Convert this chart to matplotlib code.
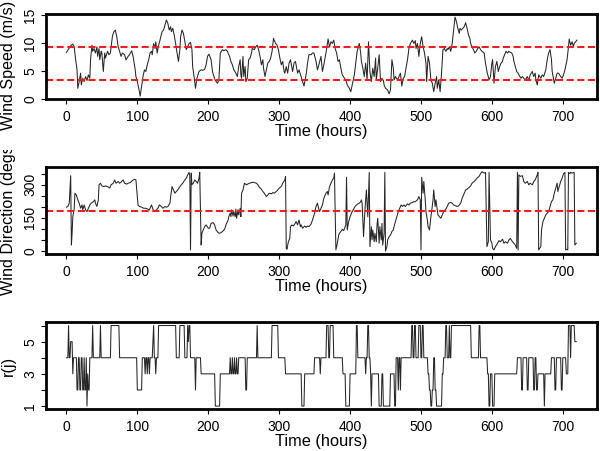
import numpy as np
import matplotlib
matplotlib.use("Agg")
import matplotlib.pyplot as plt
from matplotlib.transforms import Bbox, TransformedBbox

plt.rcParams['font.family'] = ['Liberation Sans', 'DejaVu Sans']

# ---------------- data ----------------
speed_hours = [0, 3, 6, 9, 11, 13, 15, 16, 18, 20, 21, 23, 25, 27, 29, 31, 33, 34, 36, 37, 39, 41, 43, 44, 46, 47, 49, 50,
               52, 54, 55, 58, 60, 62, 65, 67, 69, 71, 73, 75, 77, 79, 82, 84, 87, 89, 92, 94, 97, 98, 100, 102, 104, 106,
               108, 110, 112, 114, 116, 118, 120, 121, 123, 125, 126, 128, 130, 132, 133, 135, 137, 139, 141, 143, 145,
               147, 148, 150, 152, 154, 156, 158, 160, 161, 163, 165, 167, 169, 171, 173, 175, 177, 178, 180, 182, 184,
               187, 190, 192, 195, 197, 199, 201, 204, 206, 208, 210, 213, 215, 217, 220, 222,
               225, 227, 230, 232, 234, 236, 239, 241, 243, 245, 246, 247, 249, 250, 252, 253, 255, 257, 259, 261, 262,
               265, 267, 269, 271, 273, 275, 277, 278, 280, 282, 284, 286, 288, 290, 292, 293, 295, 297, 299, 301, 303,
               305, 307, 308, 310, 312, 314, 316, 319, 321, 323, 326, 328, 331, 333, 335, 338, 340, 342, 345, 347, 349,
               352, 354, 356, 359, 361, 363, 366, 368, 369, 371, 373, 375, 377, 379, 381, 383, 385, 387, 389, 392, 394,
               396, 399, 401, 403, 406, 408, 410, 413, 415, 416, 418, 420, 422, 424, 426, 428, 430, 432, 434, 436, 437,
               439, 441, 443, 445, 447, 448, 450, 453, 455, 457, 459, 461, 462, 464, 467, 469, 471, 473, 475, 477, 478,
               481, 483, 485, 488, 490,
               492, 493, 495, 497, 499, 501, 503, 505, 507, 508, 510, 512, 514, 516, 518, 520, 522, 523, 525, 527, 529,
               531, 533, 535, 537, 538, 540, 542, 544, 546, 548, 550, 552, 554, 555, 557, 559, 561, 563, 565, 567, 569,
               570, 572, 574, 576, 578, 580, 582, 584, 586, 589, 591, 593, 596, 598, 600, 601, 603, 605, 607, 609, 611,
               613, 615, 616, 618, 620, 622, 624, 626, 628, 630, 631, 633, 635, 637, 639, 641, 643, 645, 647, 650, 652,
               654, 657, 659, 661, 662, 664, 666, 669, 671, 673, 676, 678, 680, 682, 684, 685, 688, 690, 692, 694, 697,
               699, 701, 703, 706, 708, 709, 711, 713, 715, 716, 718, 720]
speed_values = [8.3, 8.9, 9.5, 9.8, 9.3, 7.0, 5.2, 1.9, 3.1, 4.6, 2.5, 3.7, 3.1, 4.0, 3.3, 4.3, 3.7, 7.0, 9.6, 8.5, 9.0, 8.2,
                9.3, 7.6, 9.0, 7.0, 8.5, 8.2, 4.9, 8.2, 7.3, 8.5, 7.9, 8.2, 11.3, 12.0, 12.3, 11.1, 9.3, 8.5, 7.6, 8.2,
                7.9, 7.0, 7.6, 7.9, 8.6, 7.6, 5.2, 4.0, 3.1, 1.9, 0.5, 2.2, 4.0, 5.2, 4.9, 6.1, 7.0, 8.2, 8.5, 7.9, 9.9,
                9.0, 10.2, 8.2, 9.6, 10.5, 11.1, 12.0, 12.3, 13.2, 14.1, 13.5, 12.3, 12.9, 12.0, 12.6, 11.4, 9.9, 8.2,
                6.7, 8.8, 11.1, 12.3, 11.7, 10.2, 8.8, 9.3, 9.9, 10.1, 8.8, 5.8, 4.0, 1.9, 3.7, 4.9, 5.2, 5.1, 5.3, 6.1,
                7.6, 8.0, 7.0, 4.9, 4.0, 3.3, 2.8, 3.4, 8.2, 8.8, 8.6,
                8.8, 8.5, 7.6, 6.7, 6.1, 5.2, 4.6, 4.0, 5.8, 7.0, 4.3, 3.7, 7.6, 4.0, 5.8, 3.1, 3.7, 7.0, 7.3, 8.2, 9.0,
                8.8, 9.3, 9.6, 8.8, 7.6, 6.1, 7.0, 5.5, 4.0, 5.2, 6.4, 6.7, 7.3, 8.5, 10.8, 10.5, 9.9, 9.6, 8.8, 7.3, 6.1,
                6.7, 4.9, 4.6, 5.8, 4.6, 6.4, 7.0, 4.9, 6.4, 6.7, 4.6, 5.2, 4.0, 3.1, 2.3, 4.3, 6.4, 7.9, 7.9, 8.2, 8.2,
                6.7, 5.2, 6.1, 7.6, 4.9, 6.1, 8.2, 9.9, 10.7, 9.3, 10.2, 9.9, 10.5, 9.0, 8.2, 6.7, 7.0, 5.5, 4.3, 3.7, 3.4,
                2.5, 1.9, 1.3, 2.5, 4.3, 6.4, 8.5, 9.9, 8.2, 6.7, 5.5, 4.0, 6.4, 3.4, 10.2, 4.9, 3.1, 5.5, 4.0, 7.3, 3.4,
                5.5, 7.9, 3.1, 3.7, 3.3, 2.5, 1.9, 1.6, 0.9, 1.6, 7.0, 5.5, 3.4, 4.0, 3.4, 4.0, 4.6, 2.3, 3.7, 4.0, 4.9,
                7.0, 9.0, 9.9, 10.5, 9.9,
                10.4, 9.0, 9.9, 7.6, 9.9, 11.1, 9.3, 8.2, 6.4, 3.1, 7.6, 6.4, 3.4, 2.8, 1.3, 2.8, 4.0, 1.9, 3.4, 1.3, 4.6,
                8.8, 9.0, 8.5, 9.0, 8.8, 9.3, 8.5, 9.9, 12.3, 14.6, 13.8, 12.6, 11.7, 12.6, 12.3, 12.6, 12.9, 13.6, 12.6,
                11.4, 10.8, 9.9, 9.3, 8.8, 8.2, 8.5, 9.0, 9.3, 8.8, 8.5, 8.2, 6.4, 4.9, 3.4, 4.0, 6.4, 7.0, 2.8, 5.8, 6.7,
                4.9, 5.8, 6.4, 6.7, 7.3, 7.9, 8.5, 8.2, 8.5, 8.3, 8.2, 7.6, 6.7, 5.8, 4.9, 4.6, 4.1, 3.7, 4.0, 3.7, 3.4,
                4.0, 3.3, 4.3, 4.9, 4.0, 4.6, 3.4, 2.5, 4.3, 3.7, 4.3, 4.0, 5.2, 7.0, 8.2, 8.8, 7.0, 4.9, 2.8, 3.7, 4.6,
                4.6, 4.0, 3.7, 4.3, 5.2, 7.0, 9.3, 10.7, 9.6, 10.2, 9.3, 9.9, 10.2, 10.5]

dir_hours = [0, 2, 4, 6, 7, 8, 9, 11, 12, 14, 16, 18, 20, 22, 23, 25, 27, 29, 31, 33, 35, 38, 40, 41, 43, 45, 46, 48, 50,
             53, 55, 58, 61, 63, 66, 68, 70, 73, 75, 77, 80, 82, 85, 87, 90, 93, 96, 98, 100, 101, 103, 106, 109, 112,
             115, 117, 120, 122, 124, 127, 129, 131, 134, 136, 139, 141, 143, 146, 147, 149, 151, 153, 155, 157, 160,
             162, 164, 167, 169, 171, 173, 174, 175, 176, 177, 179, 181, 183, 185, 187, 188, 190, 191, 192, 195, 197,
             200, 202, 204, 207, 209, 211, 214, 216, 218, 221, 223, 225, 228, 229, 231, 232, 233, 235, 236, 238, 239,
             240, 242, 243, 245, 246, 247, 249, 251, 254, 256, 258, 261, 263, 265, 268, 270, 272, 275, 277, 279, 282,
             284, 286, 289, 291, 293, 296, 298, 300, 303, 305, 308, 309, 310, 311, 313, 315, 316, 318, 320, 322, 324,
             326, 328, 330, 331, 333, 336, 338, 340,
             342, 345, 347, 350, 352, 354, 355, 357, 359, 361, 363, 366, 368, 369, 371, 373, 375, 377, 378, 380, 382,
             384, 385, 387, 389, 391, 393, 394, 395, 396, 398, 400, 401, 403, 405, 407, 409, 411, 413, 415, 416, 417,
             419, 421, 423, 425, 427, 428, 430, 431, 432, 434, 435, 437, 438, 439, 441, 442, 444, 445, 446, 448, 449,
             450, 452, 453, 455, 457, 459, 461, 462, 464, 466, 468, 470, 472, 474, 476, 478, 481, 483, 485, 488, 490,
             492, 495, 497, 499, 500, 501, 503, 504, 506, 507, 509, 510, 512, 514, 515, 517, 518, 520, 521, 523, 524,
             526, 528, 530, 532, 535, 537, 539, 542, 544, 546, 549, 551, 553, 556, 558, 561, 563, 565, 568, 570, 572,
             575, 577, 579, 582, 584, 586, 589, 591, 593, 595, 596, 598, 600, 601, 603, 605, 608, 610, 612, 615, 617,
             619, 622, 624, 626, 629, 631, 633, 635, 636, 637, 638, 640, 643, 645, 647, 650, 652, 654, 657, 659, 661,
             664, 665, 666, 669, 670, 672, 674, 676, 678, 680, 682, 684, 686, 688, 690, 692, 693, 695, 697, 699, 701,
             703, 704, 706, 707, 708, 710, 711, 713, 716, 717, 719]
dir_values = [198, 201, 216, 340, 27, 80, 155, 193, 261, 253, 231, 216, 193, 208, 186, 208, 186, 178, 193, 208, 216, 223,
              231, 216, 201, 231, 299, 306, 294, 291, 294, 291, 284, 299, 306, 321, 306, 314, 306, 311, 321, 306, 302,
              306, 309, 318, 324, 321, 246, 208, 201, 198, 193, 193, 189, 186, 208, 189, 178, 186, 193, 208, 201, 193,
              201, 198, 201, 216, 246, 291, 276, 261, 269, 276, 291, 299, 306, 321, 329, 344, 355, 337, 5, 352, 300,
              306, 321, 314, 306, 329, 355, 27, 80, 88, 110, 118, 103, 103, 125, 128, 118, 95, 83, 80, 83, 91, 98, 118,
              140, 155, 171, 155, 186, 158, 178, 155, 189, 148, 186, 163, 193, 155, 261, 276, 306, 299, 303, 306, 309,
              311, 309, 306, 299, 288, 279, 269, 261, 246, 253, 261, 258, 264, 261, 269, 276, 284, 291, 306, 321, 337,
              12, 8, 42, 57, 110, 118, 113, 122, 133, 118, 140, 110, 118, 103, 113, 107, 113,
              110, 122, 140, 171, 201, 216, 201, 178, 193, 208, 238, 261, 269, 253, 291, 306, 321, 329, 352, 5, 35, 72,
              80, 88, 98, 92, 110, 118, 333, 95, 133, 155, 163, 178, 189, 201, 208, 213, 216, 223, 231, 216, 65, 186,
              276, 155, 355, 20, 110, 50, 95, 42, 80, 42, 118, 148, 35, 110, 50, 125, 27, 80, 355, 0, 20, 50, 65, 72,
              88, 95, 110, 133, 155, 178, 193, 208, 201, 208, 201, 213, 208, 216, 219, 223, 223, 231, 246, 231, 5, 333,
              261, 314, 231, 178, 140, 110, 95, 155, 178, 231, 276, 201, 231, 186, 163, 155, 148, 163, 178, 189, 201,
              216, 219, 216, 208, 204, 201, 204, 216, 238, 261, 276, 279, 288, 294, 306, 314, 321, 329, 337, 349, 358,
              352, 355, 20, 42, 355, 50, 35, 12, 5, 20, 35, 47, 42, 53, 35, 42, 35, 50, 57, 42, 35, 27, 12, 355, 5, 344,
              337, 340, 314, 306, 314, 299, 306, 299, 314, 321, 344, 355, 5, 20, 95, 133, 148, 163, 171, 178, 201, 223,
              231, 261, 284, 306, 269, 291, 314, 329, 349, 355, 5, 8, 5, 355, 349, 355, 352, 355, 27, 35]

# r(j): runs of constant level (start hour, level)
r_run_start = [0, 3, 4, 6, 9, 10, 15, 17, 19, 21, 23, 25, 26, 28, 29, 30, 31, 33, 37, 38, 48, 49, 63, 75, 100, 107, 111,
               112, 114, 115, 117, 118, 122, 123, 124, 126, 127, 130, 155, 160, 167, 171, 172, 173, 175, 182, 183, 190,
               210, 217, 231, 232, 234, 235, 237, 238, 240, 241, 243, 253, 255, 269, 270, 290, 299, 309, 332, 336, 350,
               358, 359, 367, 370, 372, 377, 390, 394, 400, 409, 411, 422, 423, 425, 427, 429, 430, 431, 441, 445, 447,
               457, 463, 465, 468, 469, 471, 472, 487, 489, 491, 493, 497, 500, 502, 504, 510, 512, 514, 516, 518, 520,
               522, 530, 532, 535, 537, 540, 541, 543, 571, 582, 584, 594, 596, 598, 601, 604, 636, 642, 644, 650, 652,
               659, 661, 663, 665, 674, 675, 684, 689, 691, 698, 700, 705, 708, 711, 712, 717]
r_run_level = [4, 6, 4, 5, 3, 4, 2, 4, 2, 4, 2, 4, 2, 4, 1, 3, 2, 4, 6, 4, 6, 4, 6, 4, 2, 4, 3,
               4, 3, 4, 3, 4, 5, 6, 4, 3, 4, 6, 4, 6, 4, 6, 5, 6, 4, 2, 4, 3,
               1, 3, 4, 3, 4, 3, 4, 3, 4, 3, 4, 2, 4, 6, 4, 6, 4, 3, 1, 3, 4,
               3, 4, 6, 4, 6, 4, 3, 1, 3, 6, 4, 3, 4, 6, 4, 3, 1, 3, 1, 3, 1,
               3, 1, 4, 2, 4, 2, 4, 6, 4, 6, 4, 6, 4, 6, 4, 3, 2, 1, 2, 4, 2,
               1, 3, 4, 6, 4, 6, 4, 6, 4, 6, 4, 3, 1, 3, 1, 3, 4, 2, 4, 2, 4,
               2, 4, 2, 3, 1, 3, 4, 2, 4, 2, 4, 3, 6, 4, 6, 5]
n_hours = 720

speed_thresholds = [3.45, 9.35]
dir_threshold = 180
x_ticks = [0, 100, 200, 300, 400, 500, 600, 700]

r_durations = np.diff(r_run_start + [n_hours])
r_values = np.repeat(r_run_level, r_durations)
r_hours = np.arange(n_hours)

# ---------------- figure ----------------
W, H = 600, 451
fig = plt.figure(figsize=(W / 100, H / 100), dpi=100)


def rect(top, bottom):
    return [46 / W, (H - bottom) / H, (596.7 - 46) / W, (bottom - top) / H]


panels = [(14, 99.3), (167.3, 254.3), (322.3, 409.3)]
axes = [fig.add_axes(rect(t, b)) for t, b in panels]
ax1, ax2, ax3 = axes

line_kw = dict(color='#262626', lw=0.75)
red_kw = dict(color='#ff1a1a', lw=1.5, dashes=(3.4, 1.7))

ax1.plot(speed_hours, speed_values, **line_kw)
for v in speed_thresholds:
    ax1.axhline(v, **red_kw)
ax1.set_ylim(-0.06, 15.16)
ax1.set_yticks([0, 5, 10, 15])

ax2.plot(dir_hours, dir_values, **line_kw)
ax2.axhline(dir_threshold, **red_kw)
ax2.set_ylim(-14.8, 378)
ax2.set_yticks(np.arange(0, 351, 50))
ax2.set_yticklabels(['0', '', '', '150', '', '', '300', ''])

ax3.plot(r_hours, r_values, **line_kw)
ax3.set_ylim(0.8, 6.2)
ax3.set_yticks([1, 2, 3, 4, 5, 6])
ax3.set_yticklabels(['1', '', '3', '', '5', ''])

ylabels = ['Wind Speed (m/s)', 'Wind Direction (degs)', 'r(j)']
ylabel_centers = [65.0, 217.0, 366.0]
for i, (ax, (t, b)) in enumerate(zip(axes, panels)):
    ax.set_xlim(-28.8, 747.8)
    ax.set_xticks(x_ticks)
    for s in ax.spines.values():
        s.set_linewidth(2.0)
    ax.tick_params(axis='both', direction='out', length=3.4, width=0.8, labelsize=10)
    ax.tick_params(axis='x', pad=4.2)
    ax.tick_params(axis='y', pad=2.8)
    for lab in ax.get_yticklabels():
        lab.set_rotation(90)
        lab.set_va('center')
    hpx = b - t
    ax.set_xlabel('Time (hours)', fontsize=11.8)
    ax.xaxis.label.set_va('center')
    ax.xaxis.set_label_coords(0.5, -32.0 / hpx)
    txt = fig.text(8.8 / W, (H - ylabel_centers[i]) / H, ylabels[i], rotation=90, ha='center', va='center',
                   fontsize=11.6)
    # each panel's y label is confined to its own third of the figure, as in the reference
    clip = TransformedBbox(Bbox([[0, 1 - (i + 1) / 3], [1, 1 - i / 3]]), fig.transFigure)
    txt.set_clip_box(clip)
    txt.set_clip_on(True)

fig.savefig('out.png', dpi=100)
